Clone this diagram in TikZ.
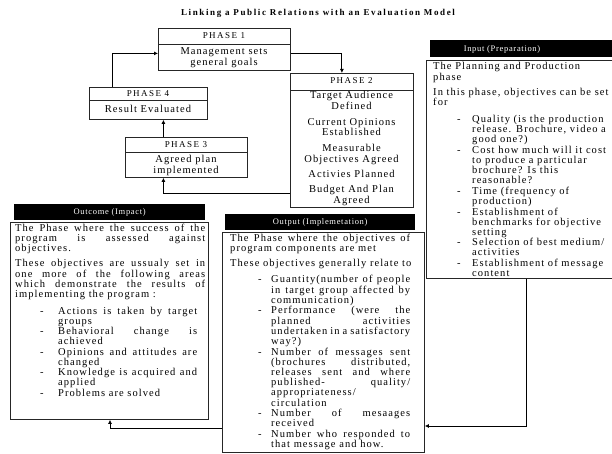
\documentclass[tikz,border=0pt]{standalone}
\usepackage{fontspec}
\setmainfont{Liberation Serif}
\usetikzlibrary{arrows.meta}

\newfontfamily\txtfont[LetterSpace=10]{Liberation Serif}
\newfontfamily\capfont[LetterSpace=16]{Liberation Serif}
\newfontfamily\barfont[LetterSpace=8]{Liberation Serif}
\newfontfamily\titlefont[LetterSpace=18]{Liberation Serif}
\newcommand{\spread}[2]{\makebox[#1pt][s]{#2}}

\begin{document}
\begin{tikzpicture}[x=1pt,y=-1pt,
  box/.style={draw=black!85, line width=0.8pt, inner sep=0pt, anchor=north west},
  bar/.style={fill=black, text=white, inner sep=0pt, anchor=north west, font=\barfont\fontsize{8.5}{9}\selectfont},
  flow/.style={draw=black, line width=1pt, -{Latex[length=4pt,width=4pt]}},
  phasehead/.style={inner sep=0pt, anchor=base, font=\capfont\fontsize{9}{9}\selectfont},
  phasebody/.style={inner sep=0pt, anchor=base, font=\txtfont\fontsize{10.5}{10}\selectfont},
  textblock/.style={inner sep=0pt, anchor=base west, font=\txtfont\fontsize{10.5}{10}\selectfont}]
\useasboundingbox (0,0) rectangle (612,454);
\fill[white] (0,0) rectangle (612,454);
\clip (0,0) rectangle (612,454);

\node[inner sep=0pt, anchor=base, font=\titlefont\bfseries\fontsize{9}{9}\selectfont] (title) at (318,16)
  {Linking a Public Relations with an Evaluation Model};

% phases
\node[box, minimum width=132pt, minimum height=42pt] (ph1) at (158,28) {};
\draw[box] ([yshift=-16pt]ph1.north west) -- ([yshift=-16pt]ph1.north east);
\node[phasehead] (ph1h) at (224,39) {PHASE 1};
\node[phasebody] (ph1b) at (224,55) {\begin{tabular}[t]{@{}c@{}}Management sets\\ general goals\end{tabular}};

\node[box, minimum width=123pt, minimum height=134pt] (ph2) at (290,73) {};
\draw[box] ([yshift=-17pt]ph2.north west) -- ([yshift=-17pt]ph2.north east);
\node[phasehead] (ph2h) at (351.5,84) {PHASE 2};
\node[phasebody] (ph2b) at (351.5,99) {\begin{tabular}[t]{@{}c@{}}Target Audience\\ Defined\\[6pt]
  Current Opinions\\ Established\\[6pt] Measurable\\ Objectives Agreed\\[5pt]
  Activies Planned\\[5pt] Budget And Plan\\ Agreed\end{tabular}};

\node[box, minimum width=122pt, minimum height=40pt] (ph3) at (125,137) {};
\draw[box] ([yshift=-15pt]ph3.north west) -- ([yshift=-15pt]ph3.north east);
\node[phasehead] (ph3h) at (186,148) {PHASE 3};
\node[phasebody] (ph3b) at (186,163) {\begin{tabular}[t]{@{}c@{}}Agreed plan\\ implemented\end{tabular}};

\node[box, minimum width=118pt, minimum height=32pt] (ph4) at (89,87) {};
\draw[box] ([yshift=-13pt]ph4.north west) -- ([yshift=-13pt]ph4.north east);
\node[phasehead] (ph4h) at (148,97) {PHASE 4};
\node[phasebody] (ph4b) at (148,113) {Result Evaluated};

% input
\node[bar, minimum width=200pt, minimum height=17pt] (inbar) at (430,40) {};
\node[inner sep=0pt, anchor=base, text=white, font=\barfont\fontsize{8.5}{9}\selectfont] (inlabel) at (502,52) {Input (Preparation)};
\node[box, minimum width=200pt, minimum height=218pt] (inbox) at (426,60) {};
\node[textblock] (intext) at (433,70) {\begin{tabular}[t]{@{\hspace{24pt}}p{15pt}@{}l@{}}
  \multicolumn{2}{@{}l@{}}{The Planning and Production}\\
  \multicolumn{2}{@{}l@{}}{phase}\\[5pt]
  \multicolumn{2}{@{}l@{}}{In this phase, objectives can be set}\\
  \multicolumn{2}{@{}l@{}}{for}\\[6pt]
  - & Quality (is the production\\ & release. Brochure, video a\\ & good one?)\\
  - & Cost how much will it cost\\ & to produce a particular\\ & brochure? Is this\\ & reasonable?\\
  - & Time (frequency of\\ & production)\\
  - & Establishment of\\ & benchmarks for objective\\ & setting\\
  - & Selection of best medium/\\ & activities\\
  - & Establishment of message\\ & content
\end{tabular}};

% outcome
\node[bar, minimum width=191pt, minimum height=16pt] (outcomebar) at (14,204) {Outcome (Impact)};
\node[box, minimum width=198pt, minimum height=197pt] (outcomebox) at (10,222) {};
\node[textblock] (outcometext) at (15,231) {\begin{tabular}[t]{@{\hspace{25pt}}p{18pt}@{}l@{}}
  \multicolumn{2}{@{}l@{}}{\spread{190}{The Phase where the success of the}}\\
  \multicolumn{2}{@{}l@{}}{\spread{190}{program is assessed against}}\\
  \multicolumn{2}{@{}l@{}}{objectives.}\\[5pt]
  \multicolumn{2}{@{}l@{}}{\spread{190}{These objectives are ussualy set in}}\\
  \multicolumn{2}{@{}l@{}}{\spread{190}{one more of the following areas}}\\
  \multicolumn{2}{@{}l@{}}{\spread{190}{which demonstrate the results of}}\\
  \multicolumn{2}{@{}l@{}}{implementing the program :}\\[6pt]
  - & \spread{139}{Actions is taken by target}\\ & groups\\
  - & \spread{139}{Behavioral change is}\\ & achieved\\
  - & \spread{139}{Opinions and attitudes are}\\ & changed\\
  - & \spread{139}{Knowledge is acquired and}\\ & applied\\
  - & Problems are solved
\end{tabular}};

% output
\node[bar, minimum width=190pt, minimum height=16pt] (outbar) at (225,214) {Output (Implemetation)};
\node[box, minimum width=202pt, minimum height=220pt] (outbox) at (222,232) {};
\node[textblock] (outtext) at (230,241) {\begin{tabular}[t]{@{\hspace{28pt}}p{13pt}@{}l@{}}
  \multicolumn{2}{@{}l@{}}{\spread{180}{The Phase where the objectives of}}\\
  \multicolumn{2}{@{}l@{}}{program components are met}\\[5pt]
  \multicolumn{2}{@{}l@{}}{These objectives generally relate to}\\[6pt]
  - & \spread{139}{Guantity(number of people}\\ & \spread{139}{in target group affected by}\\ & communication)\\
  - & \spread{139}{Performance (were the}\\ & \spread{139}{planned activities}\\
    & \spread{139}{undertaken in a satisfactory}\\ & way?)\\
  - & \spread{139}{Number of messages sent}\\ & \spread{139}{(brochures distributed,}\\
    & \spread{139}{releases sent and where}\\ & \spread{139}{published- quality/}\\
    & appropriateness/\\ & circulation\\
  - & \spread{139}{Number of mesaages}\\ & received\\
  - & \spread{139}{Number who responded to}\\ & that message and how.
\end{tabular}};

% connectors
\coordinate (inturn) at (526,426);
\coordinate (outturn) at (110,428);
\draw[flow] ([yshift=-4pt]ph1.east) -| ([xshift=-10pt]ph2.north);
\draw[flow] ([yshift=-53pt]ph2.west) -| ([xshift=-23pt]ph3.south);
\draw[flow] ([xshift=-23pt]ph3.north) -- ([xshift=-23pt]ph3.north |- ph4.south);
\draw[flow] ([xshift=-36pt]ph4.north) |- ([yshift=-4pt]ph1.west);
\draw[flow] (inbox.south -| inturn) |- (outbox.east |- inturn);
\draw[flow] (outbox.west |- outturn) -| (outcomebox.south -| outturn);
\end{tikzpicture}
\end{document}
